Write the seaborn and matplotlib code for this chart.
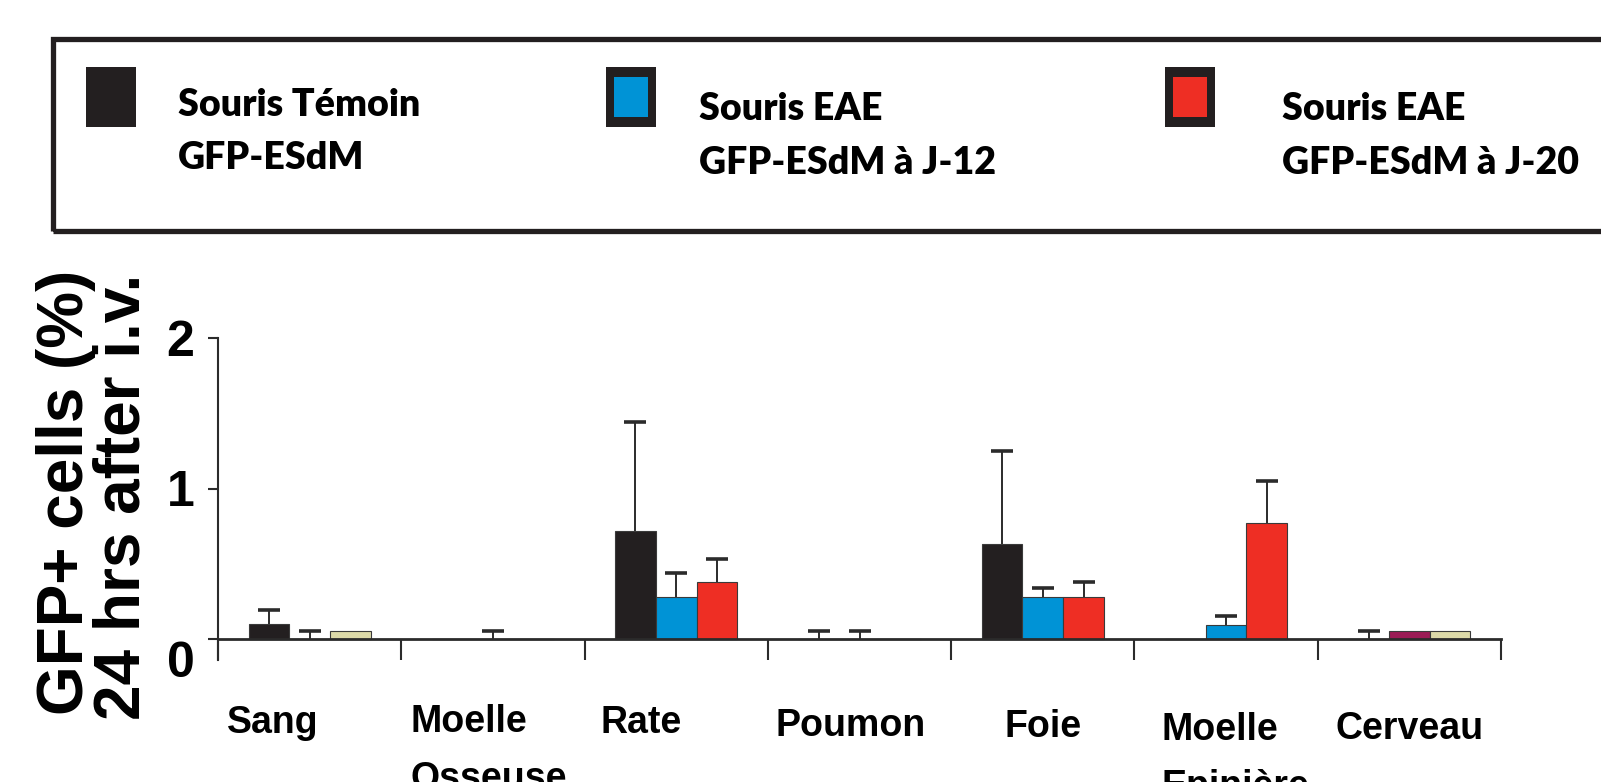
import numpy as np
import pandas as pd
import matplotlib
matplotlib.use("Agg")
import matplotlib.pyplot as plt
import matplotlib.transforms as mtransforms
from matplotlib.patches import Rectangle
from matplotlib.container import BarContainer
from matplotlib import font_manager
import seaborn as sns

# ---------------- data ----------------
categories = ["Sang", "Moelle\nOsseuse", "Rate", "Poumon", "Foie", "Moelle\nEpinière", "Cerveau"]
groups = ["Souris Témoin\nGFP-ESdM", "Souris EAE\nGFP-ESdM à J-12", "Souris EAE\nGFP-ESdM à J-20"]
temoin = [0.10, 0.0, 0.72, 0.0, 0.63, 0.0, 0.0]
eae_j12 = [0.0, 0.0, 0.28, 0.0, 0.28, 0.09, 0.05]
eae_j20 = [0.05, 0.0, 0.38, 0.0, 0.28, 0.77, 0.05]
err_temoin = [0.09, np.nan, 0.72, 0.05, 0.62, np.nan, 0.05]
err_j12 = [0.05, 0.05, 0.16, 0.05, 0.06, 0.06, np.nan]
err_j20 = [np.nan, np.nan, 0.15, np.nan, 0.10, 0.28, np.nan]
yticks = [0, 1, 2]
ytick_labels = ["0", "1", "2"]
ylabel_lines = ["GFP+ cells (%)", "24 hrs after i.v."]

# ---------------- style ----------------
palette = ["#231f20", "#0093d6", "#ee2e24"]
# (category index, group index, colour) for bars drawn in other colours
overrides = [(0, 2, "#dcd9a8"), (6, 1, "#9b1b55"), (6, 2, "#dcd9a8")]
dark = "#2b2b2b"

avail = {f.name for f in font_manager.fontManager.ttflist}
narrow = "Liberation Sans Narrow" if "Liberation Sans Narrow" in avail else "Liberation Sans"
label_size = 32 if narrow == "Liberation Sans Narrow" else 27
legend_font = "Lato" if "Lato" in avail else "DejaVu Sans"

W, H = 1601, 782
fig = plt.figure(figsize=(W / 100, H / 100), dpi=100)


def fx(px):
    return px / W


def fy(py):
    return 1 - py / H


ax_left, ax_right, ax_top, ax_bottom = 218, 1501, 338, 660
ax = fig.add_axes([fx(ax_left), fy(ax_bottom), fx(ax_right - ax_left), (ax_bottom - ax_top) / H])

df = pd.DataFrame({
    "organ": np.repeat(categories, 3),
    "group": groups * len(categories),
    "value": np.ravel(np.column_stack([temoin, eae_j12, eae_j20])),
})

sns.barplot(data=df, x="organ", y="value", hue="group", order=categories,
            hue_order=groups, palette=palette, saturation=1, width=0.667,
            edgecolor="#3a3a3a", linewidth=0.8, errorbar=None, legend=False, ax=ax)

bar_conts = [c for c in ax.containers if isinstance(c, BarContainer)]
for ci, gi, col in overrides:
    bar_conts[gi][ci].set_facecolor(col)

errs = [err_temoin, err_j12, err_j20]
for gi, cont in enumerate(bar_conts):
    xs, ys, es = [], [], []
    for ci, bar in enumerate(cont):
        e = errs[gi][ci]
        if np.isnan(e):
            continue
        xs.append(bar.get_x() + bar.get_width() / 2)
        ys.append(bar.get_height())
        es.append(e)
    if xs:
        eb = ax.errorbar(xs, ys, yerr=[np.zeros(len(es)), es], fmt="none",
                         ecolor=dark, elinewidth=1.4, capsize=8, capthick=2.6, zorder=4)
        # keep only the upper caps
        for cap in eb.lines[1]:
            if np.allclose(np.asarray(cap.get_ydata(), dtype=float), ys):
                cap.set_visible(False)

ax.set_xlim(-0.5, len(categories) - 0.5)
ax.set_ylim(-21 / 150.5, 2)
ax.set_xlabel("")
ax.set_ylabel("")

for s in ["top", "right"]:
    ax.spines[s].set_visible(False)
ax.spines["bottom"].set_position(("data", 0))
ax.spines["bottom"].set_linewidth(2.0)
ax.spines["bottom"].set_color(dark)
ax.spines["left"].set_linewidth(1.5)
ax.spines["left"].set_color(dark)

ax.set_xticks([])
ax.set_xticks(np.arange(-0.5, len(categories), 1.0), minor=True)
ax.tick_params(axis="x", which="minor", length=15, width=1.5, direction="out", color=dark)

ax.set_yticks(yticks)
ax.set_yticklabels(ytick_labels, fontsize=36, fontweight="bold", family="Liberation Sans")
ax.tick_params(axis="y", length=7, width=1.5, direction="out", color=dark, pad=10)
for lab in ax.get_yticklabels():
    if lab.get_text() == "0":
        lab.set_transform(lab.get_transform() + mtransforms.ScaledTranslation(0, -0.2, fig.dpi_scale_trans))

# category labels (x offset in category units, first-line baseline in px)
label_dx = [-0.2, -0.45, -0.19, -0.05, 0.0, -0.355, 0.0]
label_ha = ["center", "left", "center", "center", "center", "left", "center"]
label_base = [733, 732, 733, 736, 737, 740, 739]
line_step = 57
blend = mtransforms.blended_transform_factory(ax.transData, fig.transFigure)
for i, name in enumerate(categories):
    for k, part in enumerate(name.split("\n")):
        ax.text(i + label_dx[i], fy(label_base[i] + k * line_step), part, transform=blend,
                ha=label_ha[i], va="baseline", fontsize=label_size, fontweight="bold",
                family=narrow, clip_on=False)

# y label (two rotated lines)
fig.text(fx(66), fy(492), ylabel_lines[0], rotation=90, ha="center", va="center",
         fontsize=46, fontweight="bold", family="Liberation Sans")
fig.text(fx(122), fy(497), ylabel_lines[1], rotation=90, ha="center", va="center",
         fontsize=46, fontweight="bold", family="Liberation Sans")

# ---------------- legend box ----------------
fig.patches.append(Rectangle((fx(53), fy(231)), fx(1700 - 53), (231 - 39) / H,
                             transform=fig.transFigure, fill=False, edgecolor="#231f20",
                             linewidth=3.8, zorder=1))
sq_x = [86, 606, 1165]
txt_x = [178, 699, 1282]
txt_base = [(116, 169), (120, 174), (120, 174)]
for gi, g in enumerate(groups):
    x0 = sq_x[gi]
    fig.patches.append(Rectangle((fx(x0), fy(127)), fx(50), 60 / H, transform=fig.transFigure,
                                 facecolor="#231f20", edgecolor="none", zorder=2))
    if gi > 0:
        fig.patches.append(Rectangle((fx(x0 + 8), fy(117)), fx(34), 40 / H, transform=fig.transFigure,
                                     facecolor=palette[gi], edgecolor="none", zorder=3))
    l1, l2 = g.split("\n")
    fig.text(fx(txt_x[gi]), fy(txt_base[gi][0]), l1, ha="left", va="baseline",
             fontsize=27, fontweight="heavy", family=legend_font)
    fig.text(fx(txt_x[gi]), fy(txt_base[gi][1]), l2, ha="left", va="baseline",
             fontsize=27, fontweight="heavy", family=legend_font)

fig.savefig("out.png", dpi=100)
